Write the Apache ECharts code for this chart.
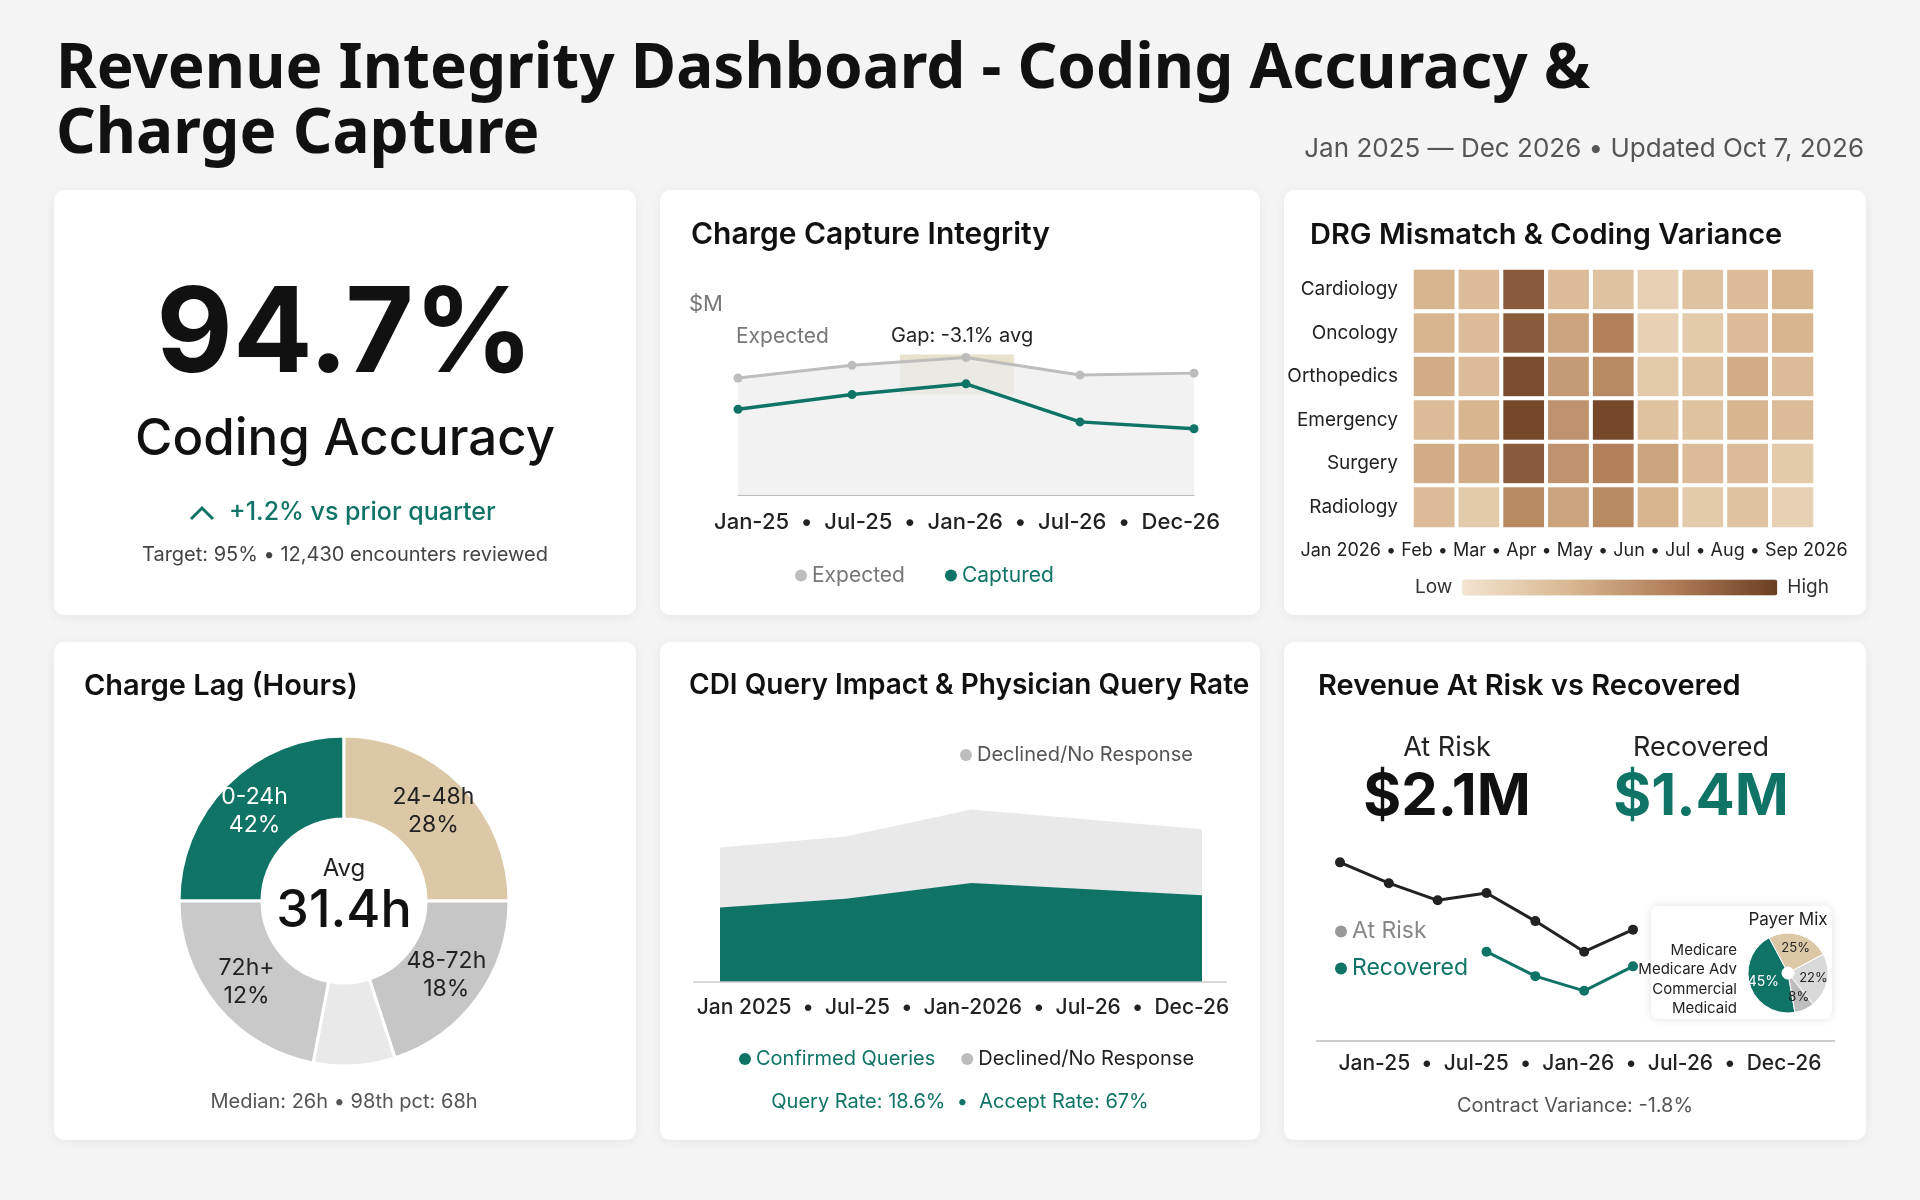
<!DOCTYPE html>
<html><head><meta charset="utf-8">
<script src="https://cdn.jsdelivr.net/npm/echarts@6/dist/echarts.min.js"></script>
<style>html,body{margin:0;padding:0;background:#f4f4f4}#c{width:1920px;height:1200px}</style>
</head><body><div id="c"></div>
<script>
// ---- data ----
const capPoints = [0, 1, 2, 3, 4];
const capExpected = [4.20, 4.33, 4.41, 4.23, 4.25];
const capCaptured = [3.88, 4.03, 4.14, 3.75, 3.68];
const capAxisText = 'Jan-25  •  Jul-25  •  Jan-26  •  Jul-26  •  Dec-26';

const drgRows = ['Cardiology','Oncology','Orthopedics','Emergency','Surgery','Radiology'];
const drgCols = ['Jan','Feb','Mar','Apr','May','Jun','Jul','Aug','Sep'];
const drgValues = [
  [35,30,85,30,25,15,25,30,35],
  [35,30,85,45,65,15,20,30,35],
  [40,30,92,50,60,20,25,40,30],
  [30,35,95,55,95,25,25,35,30],
  [40,40,85,55,65,45,30,30,20],
  [30,20,60,45,60,35,20,25,15]
];

const lagNames = ['0-24h','24-48h','48-72h','other','72h+'];
const lagLabels = ['0-24h\n42%','24-48h\n28%','48-72h\n18%','','72h+\n12%'];
const lagShares = [25,25,20,8,22];

const cdiMonths = [0, 6, 12, 23];
const cdiConfirmed = [61, 68, 81, 71];
const cdiDeclined = [49, 51, 60, 54];

const revCats = ['p1','p2','p3','p4','p5','p6','p7'];
const revAtRisk = [146,129,115,121,98,73,91];
const revRecovered = [null,null,null,73,53,41,61];

const payerNames = ['Medicare','Medicare Adv','Commercial','Medicaid'];
const payerValues = [45,25,22,8];

// ---- chart ----
const F = 'Inter, Roboto, sans-serif';
const G = '#0f7466';
const chart = echarts.init(document.getElementById('c'));
function txt(text,x,y,size,fill,weight,align,family){
  return {type:'text',z:10,style:{text,x,y,fill:fill||'#222',font:(weight||400)+' '+size+'px '+(family||F),align:align||'left',verticalAlign:'middle'}};
}
function card(x,y,w,h){
  return {type:'rect',z:0,shape:{x,y,width:w,height:h,r:10},style:{fill:'#fff',shadowBlur:12,shadowColor:'rgba(0,0,0,0.06)',shadowOffsetY:2}};
}
const graphics = [
  card(54,190,582,425), card(660,190,600,425), card(1284,190,582,425),
  card(54,642,582,498), card(660,642,600,498), card(1284,642,582,498),
  txt('Revenue Integrity Dashboard - Coding Accuracy &',56,70,62,'#111',700,'left','"Noto Sans", sans-serif'),
  txt('Charge Capture',56,135,62,'#111',700,'left','"Noto Sans", sans-serif'),
  txt('Jan 2025 — Dec 2026 • Updated Oct 7, 2026',1864,149,26,'#555',400,'right'),
  // KPI
  txt('94.7%',345,337,118,'#111',700,'center'),
  txt('Coding Accuracy',345,440,51,'#111',500,'center'),
  {type:'polyline',z:10,shape:{points:[[191,519],[202,508],[213,519]]},style:{stroke:G,lineWidth:3,fill:null}},
  txt('+1.2% vs prior quarter',229,512,25,G,500,'left'),
  txt('Target: 95% • 12,430 encounters reviewed',345,555,20,'#444',400,'center'),
  // titles
  txt('Charge Capture Integrity',691,235,30,'#111',600),
  txt('DRG Mismatch & Coding Variance',1310,235,29,'#111',600),
  txt('Charge Lag (Hours)',84,686,29,'#111',600),
  txt('CDI Query Impact & Physician Query Rate',689,686,28,'#111',600),
  txt('Revenue At Risk vs Recovered',1318,686,29,'#111',600),
  // chart1 texts
  txt('$M',689,304,22,'#777'),
  txt('Expected',736,337,21,'#777'),
  txt('Gap: -3.1% avg',891,336,20,'#222'),
  txt(capAxisText,967,522,22,'#222',500,'center'),
  // heatmap axis
  txt('Jan 2026 • Feb • Mar • Apr • May • Jun • Jul • Aug • Sep 2026',1574,551,18,'#222',400,'center'),
  // donut
  txt('Avg',344,869,24,'#222',400,'center'),
  txt('31.4h',344,911,52,'#111',500,'center'),
  txt('Median: 26h • 98th pct: 68h',344,1102,20,'#555',400,'center'),
  // cdi
  {type:'line',z:5,shape:{x1:693,y1:982,x2:1227,y2:982},style:{stroke:'#ccc',lineWidth:1.5}},
  txt('Jan 2025  •  Jul-25  •  Jan-2026  •  Jul-26  •  Dec-26',963,1008,21,'#222',500,'center'),
  txt('Query Rate: 18.6%  •  Accept Rate: 67%',960,1102,20,G,400,'center'),
  // revenue
  txt('At Risk',1447,748,27,'#222',400,'center'),
  txt('$2.1M',1447,798,58,'#111',700,'center'),
  txt('Recovered',1701,748,27,'#222',400,'center'),
  txt('$1.4M',1701,798,58,G,700,'center'),
  {type:'line',z:5,shape:{x1:1316,y1:1041,x2:1835,y2:1041},style:{stroke:'#bbb',lineWidth:1.5}},
  txt('Jan-25  •  Jul-25  •  Jan-26  •  Jul-26  •  Dec-26',1580,1064,21,'#222',500,'center'),
  txt('Contract Variance: -1.8%',1575,1106,20,'#555',400,'center'),
  {type:'rect',z:20,shape:{x:1651,y:906,width:181,height:113,r:8},style:{fill:'#fff',shadowBlur:10,shadowColor:'rgba(0,0,0,0.12)'}},
  {type:'text',z:21,style:{text:'Payer Mix',x:1788,y:920,fill:'#222',font:'400 17px '+F,align:'center',verticalAlign:'middle'}},
  ...payerNames.map((n,i)=>({type:'text',z:21,style:{text:n,x:1737,y:950+i*19.5,fill:'#222',font:'400 15px '+F,align:'right',verticalAlign:'middle'}}))
];

const cdiTotal = cdiConfirmed.map((v,i)=>v+cdiDeclined[i]);

const option = {
  animation:false,
  graphic:graphics,
  grid:[
    {left:738,top:300,width:456,height:195},
    {left:1412,top:268,width:403,height:261},
    {left:720,top:735,width:482,height:247},
    {left:1340,top:833,width:293,height:208}
  ],
  xAxis:[
    {gridIndex:0,type:'value',min:0,max:4,axisLabel:{show:false},axisTick:{show:false},splitLine:{show:false},axisLine:{lineStyle:{color:'#bbb'}}},
    {gridIndex:1,type:'category',data:drgCols,axisLabel:{show:false},axisTick:{show:false},axisLine:{show:false}},
    {gridIndex:2,type:'value',min:0,max:23,show:false},
    {gridIndex:3,type:'category',data:revCats,boundaryGap:false,show:false}
  ],
  yAxis:[
    {gridIndex:0,type:'value',min:3,max:5,show:false},
    {gridIndex:1,type:'category',data:drgRows,inverse:true,axisLine:{show:false},axisTick:{show:false},axisLabel:{color:'#222',fontSize:19,fontFamily:F,margin:14}},
    {gridIndex:2,type:'value',min:0,max:202,show:false},
    {gridIndex:3,type:'value',min:0,max:170,show:false}
  ],
  visualMap:{type:'continuous',seriesIndex:2,min:0,max:100,orient:'horizontal',left:1400,top:563,itemWidth:16,itemHeight:315,
    calculable:false,text:['High','Low'],textGap:10,textStyle:{color:'#333',fontSize:19,fontFamily:F},
    inRange:{color:['#f2e4cf','#d9b892','#b07e58','#6a3e22']}},
  legend:[
    {top:560,left:790,itemWidth:12,itemHeight:12,itemGap:40,icon:'circle',
     data:[{name:'Expected',textStyle:{color:'#777'}},{name:'Captured',textStyle:{color:G}}],textStyle:{fontSize:21,fontFamily:F}},
    {top:740,left:955,icon:'circle',itemWidth:12,itemHeight:12,data:[{name:'Declined/No Response ',textStyle:{color:'#555'}}],textStyle:{fontSize:20,fontFamily:F}},
    {top:1044,left:734,icon:'circle',itemWidth:12,itemHeight:12,itemGap:26,data:[{name:'Confirmed Queries',textStyle:{color:G}},{name:'Declined/No Response',textStyle:{color:'#222'}}],textStyle:{fontSize:20,fontFamily:F}},
    {top:915,left:1330,orient:'vertical',icon:'circle',itemWidth:12,itemHeight:12,itemGap:14,
     data:[{name:'At Risk',itemStyle:{color:'#999'},textStyle:{color:'#888'}},{name:'Recovered',textStyle:{color:G}}],textStyle:{fontSize:23,fontFamily:F}}
  ],
  series:[
    {name:'Expected',type:'line',xAxisIndex:0,yAxisIndex:0,data:capPoints.map((m,i)=>[m,capExpected[i]]),
     color:'#bdbdbd',lineStyle:{width:3,color:'#bdbdbd'},symbol:'circle',symbolSize:9,areaStyle:{color:'#ececec',origin:'start'},
     markArea:{silent:true,itemStyle:{color:'rgba(214,200,160,0.55)'},data:[[{coord:[1.42,4.44]},{coord:[2.42,4.03]}]]}},
    {name:'Captured',type:'line',xAxisIndex:0,yAxisIndex:0,data:capPoints.map((m,i)=>[m,capCaptured[i]]),
     color:G,lineStyle:{width:3.5,color:G},symbol:'circle',symbolSize:9},
    {name:'DRG',type:'heatmap',xAxisIndex:1,yAxisIndex:1,
     data:drgValues.flatMap((r,ri)=>r.map((v,ci)=>[ci,ri,v])),itemStyle:{borderColor:'#fff',borderWidth:4}},
    {name:'Lag',type:'pie',center:[344,901],radius:[82,165],startAngle:180,clockwise:true,
     data:lagShares.map((v,i)=>({name:lagNames[i],value:v})),
     color:[G,'#dcc8a6','#c6c6c6','#e9e9e9','#c9c9c9'],itemStyle:{borderColor:'#fff',borderWidth:3},
     label:{position:'inside',fontSize:23,fontFamily:F,lineHeight:28,formatter:p=>lagLabels[p.dataIndex],color:'#222'},
     labelLine:{show:false},emphasis:{disabled:true}},
    {name:'Declined/No Response',type:'line',xAxisIndex:2,yAxisIndex:2,data:cdiMonths.map((m,i)=>[m,cdiTotal[i]]),
     symbol:'none',color:'#bdbdbd',lineStyle:{width:0},areaStyle:{color:'#e9e9e9',opacity:1,origin:'start'}},
    {name:'Confirmed Queries',type:'line',xAxisIndex:2,yAxisIndex:2,data:cdiMonths.map((m,i)=>[m,cdiConfirmed[i]]),
     symbol:'none',color:G,lineStyle:{width:0},areaStyle:{color:G,opacity:1,origin:'start'}},
    {name:'Declined/No Response ',type:'line',xAxisIndex:2,yAxisIndex:2,data:[],color:'#bdbdbd'},
    {name:'At Risk',type:'line',xAxisIndex:3,yAxisIndex:3,data:revAtRisk,color:'#222',lineStyle:{width:3,color:'#222'},symbol:'circle',symbolSize:10},
    {name:'Recovered',type:'line',xAxisIndex:3,yAxisIndex:3,data:revRecovered,color:G,lineStyle:{width:3,color:G},symbol:'circle',symbolSize:10},
    {name:'Payer',type:'pie',center:[1788,973],radius:[6,40],z:30,zlevel:1,startAngle:280,clockwise:true,
     data:payerNames.map((n,i)=>({name:n,value:payerValues[i]})),color:[G,'#dcc8a6','#d9d9d9','#bdbdbd'],
     itemStyle:{borderColor:'#fff',borderWidth:1},labelLine:{show:false},emphasis:{disabled:true},
     label:{position:'inside',fontSize:13,fontFamily:F,formatter:p=>p.value+'%',color:'#222'}}
  ]
};
option.series[3].data[0].label = {color:'#fff'};
option.series[9].data[0].label = {color:'#fff',fontSize:14};
chart.setOption(option);
</script></body></html>
